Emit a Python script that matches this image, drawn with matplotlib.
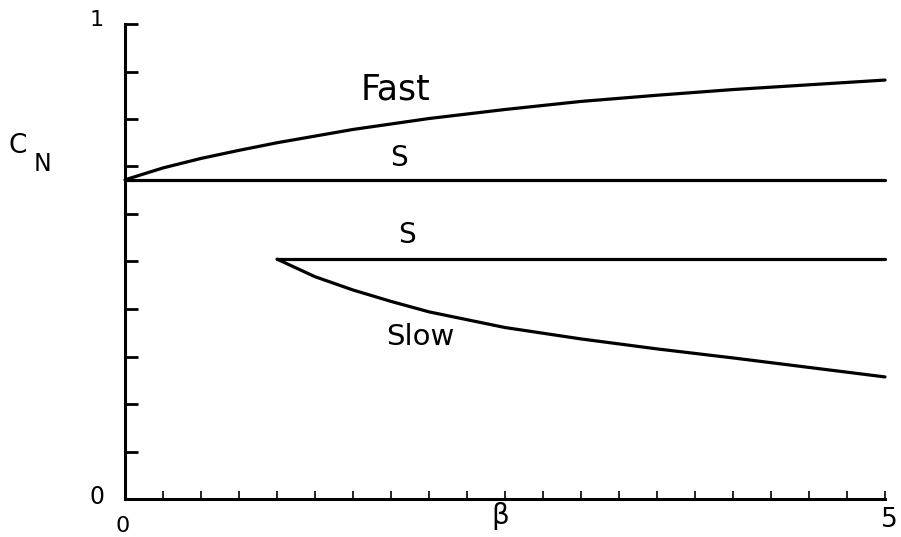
import matplotlib
matplotlib.use("Agg")
import matplotlib.pyplot as plt
from matplotlib.ticker import MultipleLocator

# fast branch, rising from the lower knee to the right edge
fast_beta = [0.0, 0.25, 0.5, 0.75, 1.0, 1.5, 2.0, 2.5, 3.0, 3.5, 4.0, 4.5, 5.0]
fast_cn = [0.672, 0.697, 0.717, 0.734, 0.750, 0.778, 0.801, 0.820, 0.837, 0.850, 0.862, 0.872, 0.882]

# slow branch, starting at beta = 1
slow_beta = [1.0, 1.25, 1.5, 1.75, 2.0, 2.5, 3.0, 3.5, 4.0, 4.5, 5.0]
slow_cn = [0.505, 0.468, 0.440, 0.416, 0.394, 0.361, 0.337, 0.316, 0.297, 0.277, 0.257]

# the two flat "S" levels
s_upper_beta = [0.0, 5.0]
s_upper_cn = [0.672, 0.672]
s_lower_beta = [1.0, 5.0]
s_lower_cn = [0.505, 0.505]

W, H = 901, 537
fig = plt.figure(figsize=(W / 100, H / 100), dpi=100)
ax = fig.add_axes([125 / W, 1 - 499 / H, 760 / W, 475 / H])

lw = 2.3
kw = dict(color="black", lw=lw, solid_capstyle="round", solid_joinstyle="round", clip_on=False)
ax.plot(fast_beta, fast_cn, **kw)
ax.plot(slow_beta, slow_cn, **kw)
ax.plot(s_upper_beta, s_upper_cn, **kw)
ax.plot(s_lower_beta, s_lower_cn, **kw)

ax.set_xlim(0, 5)
ax.set_ylim(0, 1)
for side in ("top", "right"):
    ax.spines[side].set_visible(False)
for side in ("left", "bottom"):
    ax.spines[side].set_linewidth(2.2)

ax.yaxis.set_major_locator(MultipleLocator(0.1))
ax.xaxis.set_major_locator(MultipleLocator(0.25))
ax.tick_params(axis="y", direction="in", length=9.5, width=2.0, labelleft=False)
ax.tick_params(axis="x", direction="in", length=5.5, width=1.2, labelbottom=False)

font = "DejaVu Sans"
ax.text(1.78, 0.863, "Fast", fontsize=25, family=font, ha="center", va="center")
ax.text(1.80, 0.718, "S", fontsize=20, family=font, ha="center", va="center")
ax.text(1.855, 0.556, "S", fontsize=20, family=font, ha="center", va="center")
ax.text(1.94, 0.341, "Slow", fontsize=21, family=font, ha="center", va="center")


def ftext(px, py, s, size):
    fig.text(px / W, 1 - py / H, s, fontsize=size, family=font, ha="center", va="center")


ftext(18, 146, "C", 19)
ftext(43, 164, "N", 17)
ftext(97, 20, "1", 16)
ftext(97, 497, "0", 17)
ftext(123, 526, "0", 16)
ftext(500, 516, "β", 20)
ftext(889, 520, "5", 19)

fig.savefig("out.png", dpi=100, facecolor="white")
